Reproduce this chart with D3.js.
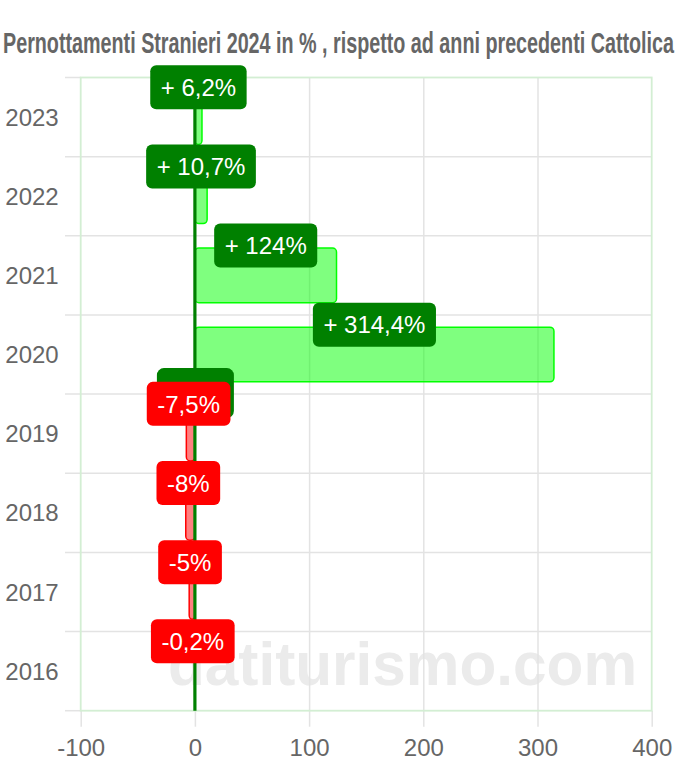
<!DOCTYPE html>
<html><head><meta charset="utf-8">
<script src="https://cdn.jsdelivr.net/npm/d3@7"></script>
<style>html,body{margin:0;padding:0;background:#fff;}svg{display:block;}</style>
</head><body>
<svg id="c" width="678" height="768"></svg>
<script>
const title = "Pernottamenti Stranieri 2024 in % , rispetto ad anni precedenti Cattolica";
const years = ["2023","2022","2021","2020","2019","2018","2017","2016"];
const values = [6.2, 10.7, 124, 314.4, -7.5, -8, -5, -0.2];
const xTicks = [-100, 0, 100, 200, 300, 400];
const watermark = "datiturismo.com";
// stray green label box seen behind the 2019 label
const strayLabels = [{year: "2019", value: 0}];

const svg = d3.select("#c");
const FONT = "'Liberation Sans', Arial, Helvetica, sans-serif";
const L = 80.7, R = 651.7, T = 77.5, B = 710.7;
const x = d3.scaleLinear().domain([-100, 400]).range([L, R]);
const y = d3.scaleBand().domain(years).range([T, B]);
const barH = y.bandwidth() * 0.69;

// title
svg.append("text").attr("x", 3).attr("y", 52.5)
  .attr("textLength", 671).attr("lengthAdjust", "spacingAndGlyphs")
  .style("font-family", "'Liberation Sans Narrow', 'Liberation Sans', Arial, sans-serif")
  .style("font-weight", "bold").style("font-size", "29px")
  .attr("fill", "#666").text(title);

// watermark
svg.append("text").attr("x", 168).attr("y", 685)
  .attr("textLength", 469).attr("lengthAdjust", "spacingAndGlyphs")
  .style("font-family", FONT).style("font-weight", "bold").style("font-size", "62px")
  .attr("fill", "#ebebeb").text(watermark);

// vertical grid + ticks
const gx = svg.append("g").attr("transform", `translate(0,${B})`)
  .call(d3.axisBottom(x).tickValues(xTicks).tickSize(0).tickPadding(0).tickFormat(d => d));
gx.select(".domain").remove();
gx.selectAll(".tick line").remove();
gx.selectAll(".tick").each(function(d) {
  const g = d3.select(this);
  if (d !== -100 && d !== 400 && d !== 0) {
    g.append("line").attr("y1", T - B).attr("y2", 0).attr("stroke", "#e3e3e3").attr("stroke-width", 1.5);
  }
  g.append("line").attr("y1", 0).attr("y2", 16).attr("stroke", "#e3e3e3").attr("stroke-width", 1.5);
});
gx.selectAll(".tick text").attr("y", 45).attr("dy", 0)
  .style("font-family", FONT).style("font-size", "24px").attr("fill", "#666");

// horizontal grid + ticks (category boundaries)
const bounds = years.map(d => y(d)).concat([B]);
svg.append("g").selectAll("line").data(bounds).join("line")
  .attr("x1", 65).attr("x2", R).attr("y1", d => d).attr("y2", d => d)
  .attr("stroke", (d, i) => (i === 0 || i === bounds.length - 1) ? "none" : "#e3e3e3")
  .attr("stroke-width", 1.5);
svg.append("g").selectAll("line").data([T, B]).join("line")
  .attr("x1", 65).attr("x2", L).attr("y1", d => d).attr("y2", d => d)
  .attr("stroke", "#e3e3e3").attr("stroke-width", 1.5);

// y labels
const gy = svg.append("g").attr("transform", `translate(${L},0)`)
  .call(d3.axisLeft(y).tickSize(0).tickPadding(22));
gy.select(".domain").remove();
gy.selectAll(".tick text").style("font-family", FONT).style("font-size", "24px")
  .attr("fill", "#666").attr("dy", "0.36em");

// plot border (light green)
svg.append("rect").attr("x", L).attr("y", T).attr("width", R - L).attr("height", B - T)
  .attr("fill", "none").attr("stroke", "#d3eed3").attr("stroke-width", 1.8);

// bars
const data = years.map((yr, i) => ({year: yr, value: values[i]}));
svg.append("g").selectAll("rect").data(data).join("rect")
  .attr("x", d => Math.min(x(0), x(d.value)))
  .attr("width", d => Math.abs(x(d.value) - x(0)))
  .attr("y", d => y(d.year) + (y.bandwidth() - barH) / 2)
  .attr("height", barH)
  .attr("rx", 4).attr("ry", 4)
  .attr("fill", d => d.value >= 0 ? "rgba(0,255,0,0.5)" : "rgba(255,0,0,0.5)")
  .attr("stroke", d => d.value >= 0 ? "#00ff00" : "#ff0000")
  .attr("stroke-width", 1.5);

// zero line
svg.append("line").attr("x1", x(0)).attr("x2", x(0)).attr("y1", T).attr("y2", B)
  .attr("stroke", "#008000").attr("stroke-width", 3.2);

// labels
const fmt = v => {
  const s = d3.format("~f")(Math.abs(v)).replace(".", ",");
  return v >= 0 ? "+ " + s + "%" : "-" + s + "%";
};
const lab = svg.append("g");
strayLabels.forEach(s => {
  lab.append("rect").attr("x", x(s.value) - 38).attr("y", y(s.year) - 26)
    .attr("width", 77).attr("height", 50).attr("rx", 7)
    .attr("fill", "#008000");
});
data.forEach(d => {
  const cx = (x(0) + x(d.value)) / 2 - (d.value < 0 ? 2 : 0);
  const cy = y(d.year) + (y.bandwidth() - barH) / 2 - 2.5;
  const g = lab.append("g").attr("transform", `translate(${cx},${cy})`);
  const t = g.append("text").attr("text-anchor", "middle").attr("dy", "0.36em")
    .style("font-family", FONT).style("font-size", "24px").attr("fill", "#fff")
    .text(fmt(d.value));
  const w = t.node().getComputedTextLength() + 21;
  g.insert("rect", "text").attr("x", -w / 2).attr("y", -22).attr("width", w).attr("height", 44)
    .attr("rx", 6).attr("fill", d.value >= 0 ? "#008000" : "#ff0000");
});
</script>
</body></html>
